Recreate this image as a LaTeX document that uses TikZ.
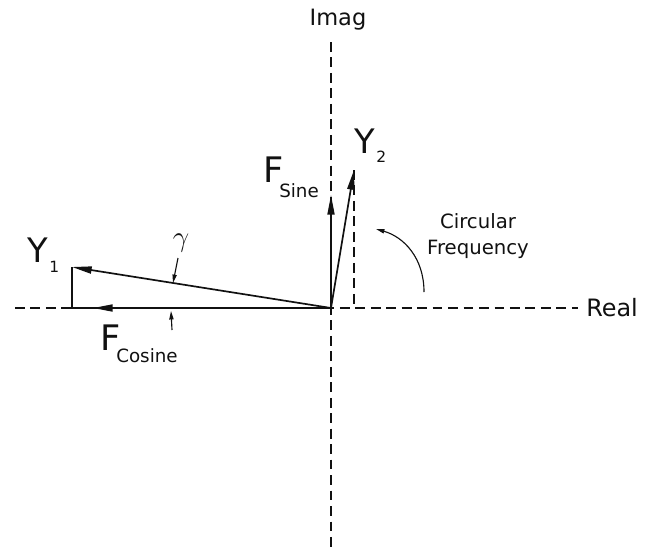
\documentclass[tikz,border=0pt]{standalone}
\usepackage{fontspec}
\setmainfont{DejaVu Sans}
\usepackage{xcolor}
\usetikzlibrary{arrows.meta}
\definecolor{PHInk}{HTML}{111111}
\definecolor{PHPaper}{HTML}{FFFFFF}

\begin{document}
\begin{tikzpicture}[x=0.025cm,y=-0.025cm,
  axisline/.style={PHInk,line width=.9pt,dash pattern=on 7pt off 4pt},
  vecline/.style={PHInk,line width=1.2pt,-{Triangle[length=14pt,width=5pt]}},
  tickarrow/.style={PHInk,line width=.8pt,-{Triangle[length=6pt,width=3pt]}},
  lbl/.style={inner sep=0pt,text=PHInk}]
\path[use as bounding box] (0,0) rectangle (661,559);
\fill[PHPaper] (0,0) rectangle (661,559);
% axes
\coordinate (O) at (331,308);
\coordinate (realL) at (15,308);
\coordinate (realR) at (578,308);
\coordinate (imagT) at (331,42);
\coordinate (imagB) at (331,552);
\draw[axisline] (realL) -- (realR);
\draw[axisline] (imagT) -- (imagB);
\node[lbl,anchor=base,font=\fontsize{16}{16}\selectfont] (imag) at (338,25) {Imag};
\node[lbl,anchor=base west,font=\fontsize{17}{17}\selectfont] (real) at (586,316) {Real};
% vectors
\coordinate (y1) at (72,267);
\coordinate (y1foot) at (72,308);
\coordinate (fcos) at (93,308);
\coordinate (fsin) at (331,195);
\coordinate (y2) at (354,170);
\coordinate (y2foot) at (354,308);
\draw[vecline] (O) -- (y1);
\draw[PHInk,line width=1.2pt] (y1) -- (y1foot) -- (fcos);
\draw[vecline] (O) -- (fcos);
\draw[vecline] (O) -- (fsin);
\draw[vecline] (O) -- (y2);
\draw[axisline] (y2) -- (y2foot);
\node[lbl,anchor=base west,font=\fontsize{24}{24}\selectfont] (y1lbl) at (27,262) {Y\kern1pt\raisebox{-7.8pt}{\fontsize{11}{11}\selectfont 1}};
\node[lbl,anchor=base west,font=\fontsize{24}{24}\selectfont] (y2lbl) at (354,153) {Y\kern1pt\raisebox{-7pt}{\fontsize{11}{11}\selectfont 2}};
\node[lbl,anchor=base west,font=\fontsize{25}{25}\selectfont] (fsinlbl) at (263,182) {F\kern-3pt\raisebox{-10.7pt}{\fontsize{13}{13}\selectfont Sine}};
\node[lbl,anchor=base west,font=\fontsize{25}{25}\selectfont] (fcoslbl) at (100,350) {F\kern-3pt\raisebox{-9.2pt}{\fontsize{13}{13}\selectfont Cosine}};
% phase angle
\coordinate (gamT) at (178,258);
\coordinate (gamA) at (173,283);
\coordinate (gamB) at (172,330);
\coordinate (gamC) at (171,311);
\draw[tickarrow] (gamT) -- (gamA);
\draw[tickarrow] (gamB) -- (gamC);
\node[lbl,font=\fontsize{22}{22}\selectfont] (gam) at (181,243) {$\gamma$};
% rotation
\coordinate (rotS) at (424,292);
\coordinate (rotE) at (376,229);
\draw[tickarrow] (rotS) .. controls (424,258) and (404,237) .. (rotE);
\node[lbl,align=center,font=\fontsize{14}{19}\selectfont] (rot) at (478,236) {Circular\\Frequency};
\end{tikzpicture}
\end{document}
